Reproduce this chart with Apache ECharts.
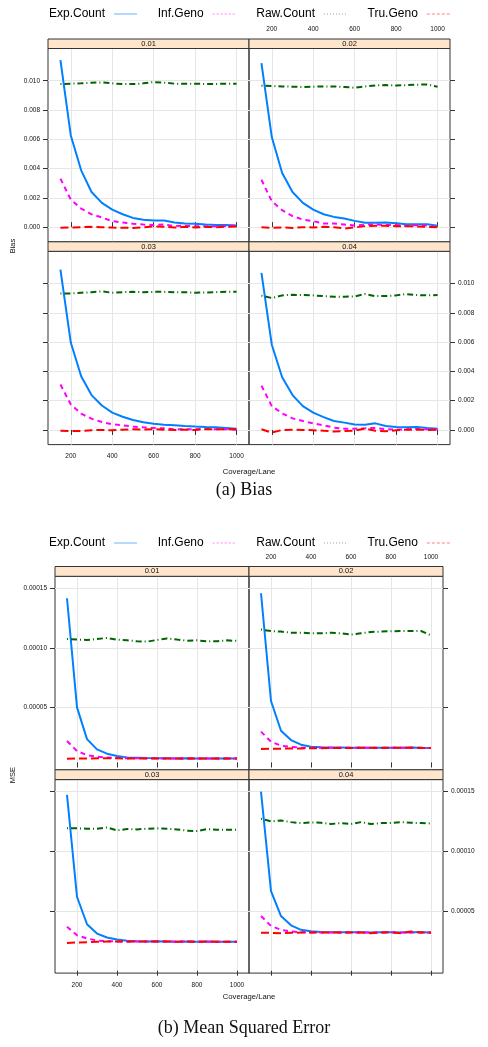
<!DOCTYPE html>
<html>
<head>
<meta charset="utf-8">
<script src="https://cdn.jsdelivr.net/npm/echarts@6/dist/echarts.min.js"></script>
<style>
html,body{margin:0;padding:0;background:#fff;}
#c{width:488px;height:1047px;}
</style>
</head>
<body>
<div id="c"></div>
<script>
// ---------------- DATA ----------------
const coverage = [150,200,250,300,350,400,450,500,550,600,650,700,750,800,850,900,950,1000];
const panelLabels = ['0.01','0.02','0.03','0.04'];
const seriesNames = ['Exp.Count','Inf.Geno','Raw.Count','Tru.Geno'];
const xTicks = [200,400,600,800,1000];
const biasTicks = [0,0.002,0.004,0.006,0.008,0.010];
const mseTicks = [0.00005,0.00010,0.00015];
const captionA = '(a) Bias';
const captionB = '(b) Mean Squared Error';
const xTitle = 'Coverage/Lane';
const yTitleA = 'Bias';
const yTitleB = 'MSE';

// Bias
const bias01Exp = [0.01141,0.00626,0.00388,0.0024,0.00166,0.0012,0.00088,0.00063,0.0005,0.00045,0.00045,0.00032,0.00025,0.00023,0.00018,0.00014,0.00014,0.00011];
const bias01Inf = [0.00331,0.00188,0.00127,0.00088,0.00066,0.00041,0.00032,0.00023,0.00018,0.00014,0.00018,0.00007,0.0001,0.00006,0.00006,0.00007,0.00008,0.0001];
const bias01Raw = [0.00977,0.0098,0.00982,0.00986,0.00989,0.00982,0.00977,0.00977,0.00982,0.00991,0.00986,0.0098,0.0098,0.0098,0.00977,0.00978,0.0098,0.0098];
const bias01Tru = [-0.00004,-0.00002,0,0.00002,-0.00001,-0.00003,-0.00004,-0.00005,-0.00002,0.00005,0.00003,-0.00003,0.00002,-0.00002,0.00001,0,0.00003,0.00004];

const bias02Exp = [0.0112,0.00615,0.0037,0.0024,0.00166,0.0012,0.00088,0.0007,0.00059,0.00043,0.0003,0.0003,0.00032,0.00027,0.0002,0.0002,0.0002,0.0001];
const bias02Inf = [0.00324,0.00177,0.00116,0.00075,0.00052,0.00041,0.00025,0.00025,0.00018,0.00011,0.00018,0.00018,0.00014,0.00014,0.00009,0.00014,0.00011,0.00002];
const bias02Raw = [0.00966,0.00964,0.00961,0.00959,0.00957,0.00959,0.00961,0.00961,0.00957,0.00952,0.00961,0.00968,0.0097,0.00968,0.0097,0.00973,0.00975,0.00959];
const bias02Tru = [0,-0.00005,-0.00002,-0.00005,0,-0.00002,0.00002,0,-0.00009,-0.00002,0.00007,0.00009,0.00009,0.00007,0.00007,0.00005,0.00002,0];

const bias03Exp = [0.01095,0.00597,0.00367,0.00238,0.00167,0.00118,0.0009,0.00068,0.00052,0.00043,0.00036,0.00032,0.00027,0.00023,0.0002,0.00018,0.00014,0.00009];
const bias03Inf = [0.0031,0.00174,0.00111,0.00077,0.00054,0.00038,0.00032,0.00023,0.00018,0.00014,0.00011,0.00005,0.00005,0.00005,0.00007,0.00005,0.00005,0.00002];
const bias03Raw = [0.00932,0.00932,0.00937,0.00941,0.00946,0.00937,0.00941,0.00943,0.00941,0.00943,0.00943,0.00941,0.00941,0.00937,0.00939,0.00941,0.00943,0.00943];
const bias03Tru = [-0.00005,-0.00007,-0.00007,-0.00002,0,-0.00002,0.00002,0.00005,0.00002,0.00005,0.00002,0,0.00002,0,0.00005,0.00005,0.00005,0.00005];

const bias04Exp = [0.01073,0.00582,0.0036,0.00238,0.00163,0.00118,0.00088,0.00061,0.0005,0.00038,0.00036,0.00045,0.00027,0.0002,0.00018,0.0002,0.00014,0.00009];
const bias04Inf = [0.00303,0.00163,0.00113,0.00079,0.00061,0.00045,0.00032,0.00016,0.00009,0.00009,0.00011,0.00014,0.00005,0.00002,0.00005,0.00007,0.00005,0.00005];
const bias04Raw = [0.00917,0.00901,0.00919,0.00923,0.00921,0.00919,0.00914,0.0091,0.0091,0.00912,0.00928,0.00914,0.00914,0.00919,0.00928,0.00921,0.00919,0.00921];
const bias04Tru = [0.00005,-0.00018,0,0.00002,0,-0.00002,-0.00005,-0.00011,-0.00007,-0.00005,0.00009,-0.00005,-0.00009,-0.00002,0.00002,0.00002,0,0.00002];

// MSE
const mse01Exp = [0.0001416,0.0000503,0.0000237,0.0000151,0.0000115,0.0000095,0.0000084,0.0000081,0.0000078,0.0000077,0.0000076,0.0000075,0.0000076,0.0000075,0.0000074,0.0000075,0.0000074,0.0000074];
const mse01Inf = [0.0000221,0.0000137,0.0000103,0.0000089,0.0000084,0.0000079,0.0000077,0.0000077,0.0000076,0.0000076,0.0000075,0.0000075,0.0000075,0.0000075,0.0000074,0.0000075,0.0000074,0.0000074];
const mse01Raw = [0.0001075,0.000107,0.0001067,0.0001075,0.0001084,0.000107,0.0001064,0.0001056,0.0001053,0.0001067,0.000108,0.000107,0.0001061,0.0001064,0.0001056,0.0001056,0.0001064,0.0001059];
const mse01Tru = [0.0000073,0.0000074,0.0000075,0.0000076,0.0000077,0.0000076,0.0000075,0.0000075,0.0000075,0.0000075,0.0000075,0.0000074,0.0000075,0.0000075,0.0000074,0.0000075,0.0000074,0.0000074];

const mse02Exp = [0.0001458,0.0000556,0.0000307,0.0000229,0.000019,0.0000173,0.0000168,0.0000166,0.0000166,0.0000165,0.0000165,0.0000165,0.0000164,0.0000165,0.0000165,0.0000166,0.0000164,0.0000163];
const mse02Inf = [0.00003,0.0000215,0.0000182,0.0000171,0.0000166,0.0000165,0.0000165,0.0000165,0.0000164,0.0000165,0.0000165,0.0000164,0.0000165,0.0000164,0.0000165,0.0000165,0.0000164,0.0000163];
const mse02Raw = [0.0001154,0.0001142,0.0001137,0.0001128,0.0001128,0.0001123,0.0001123,0.0001128,0.0001123,0.0001112,0.0001123,0.0001134,0.0001137,0.000114,0.0001142,0.0001142,0.0001142,0.0001106];
const mse02Tru = [0.0000154,0.0000156,0.0000157,0.0000158,0.0000159,0.000016,0.000016,0.0000162,0.0000163,0.0000163,0.0000164,0.0000164,0.0000162,0.0000164,0.0000165,0.0000164,0.0000163,0.0000163];

const mse03Exp = [0.0001472,0.0000619,0.0000389,0.0000311,0.0000278,0.0000261,0.000025,0.0000247,0.0000245,0.0000246,0.0000245,0.0000243,0.0000244,0.0000243,0.0000244,0.0000243,0.0000242,0.0000242];
const mse03Inf = [0.0000369,0.0000297,0.000027,0.0000253,0.0000247,0.0000245,0.0000244,0.0000244,0.0000245,0.0000244,0.0000244,0.0000243,0.0000244,0.0000243,0.0000243,0.0000243,0.0000242,0.0000242];
const mse03Raw = [0.0001192,0.0001192,0.0001189,0.0001189,0.00012,0.0001175,0.0001186,0.0001183,0.0001189,0.0001192,0.0001189,0.0001183,0.0001172,0.0001169,0.0001186,0.000118,0.000118,0.000118];
const mse03Tru = [0.0000233,0.0000236,0.0000239,0.0000242,0.0000244,0.0000245,0.0000243,0.0000244,0.0000245,0.0000244,0.0000245,0.0000243,0.0000244,0.0000242,0.0000245,0.0000243,0.0000243,0.0000242];

const mse04Exp = [0.00015,0.0000667,0.0000458,0.000038,0.0000342,0.000033,0.0000325,0.0000322,0.0000322,0.0000321,0.0000322,0.000032,0.0000321,0.0000321,0.000032,0.0000322,0.0000321,0.000032];
const mse04Inf = [0.0000458,0.0000375,0.0000342,0.0000328,0.0000322,0.000032,0.000032,0.0000321,0.000032,0.0000321,0.000032,0.000032,0.000032,0.0000321,0.000032,0.000032,0.000032,0.000032];
const mse04Raw = [0.0001272,0.000125,0.0001258,0.0001244,0.0001236,0.0001242,0.0001239,0.0001228,0.0001236,0.0001228,0.0001244,0.0001228,0.0001236,0.0001236,0.0001244,0.0001239,0.0001236,0.0001233];
const mse04Tru = [0.0000317,0.0000317,0.0000314,0.0000317,0.000032,0.000032,0.0000319,0.000032,0.0000319,0.000032,0.000032,0.0000314,0.000032,0.0000322,0.0000314,0.0000328,0.000032,0.0000317];

// ---------------- STYLE / LAYOUT ----------------
const lineColors = ['#0080ff','#ff00ff','#006400','#ff0000'];
const lineTypes = ['solid',[5,4],[1,3,6,3],[8,4]];
const legendTypes = ['solid',[2,2],[1,2],[3,2]];
const SANS = 'Liberation Sans';

const charts = [
  { // (a) Bias
    data: [[bias01Exp,bias01Inf,bias01Raw,bias01Tru],[bias02Exp,bias02Inf,bias02Raw,bias02Tru],
           [bias03Exp,bias03Inf,bias03Raw,bias03Tru],[bias04Exp,bias04Inf,bias04Raw,bias04Tru]],
    cols:[48,249], colW:201, stripTops:[39,241.8], stripH:9.5, panelH:193.3,
    yMin:-0.001, yMax:0.0122, yTicks:biasTicks, fmt:v=>v.toFixed(3),
    legendTop:8, xTitleY:472, yTitle:yTitleA, yTitleY:246, caption:captionA, captionY:490, xMarginB:8
  },
  { // (b) MSE
    data: [[mse01Exp,mse01Inf,mse01Raw,mse01Tru],[mse02Exp,mse02Inf,mse02Raw,mse02Tru],
           [mse03Exp,mse03Inf,mse03Raw,mse03Tru],[mse04Exp,mse04Inf,mse04Raw,mse04Tru]],
    cols:[55,249], colW:194, stripTops:[566.5,769.8], stripH:9.8, panelH:193.5,
    yMin:-0.000002, yMax:0.00016, yTicks:mseTicks, fmt:v=>v.toFixed(5),
    legendTop:537, xTitleY:997, yTitle:yTitleB, yTitleY:775, caption:captionB, captionY:1028, xMarginB:9
  }
];

const grids=[], xAxes=[], yAxes=[], series=[], graphics=[], legends=[];
const tickLabelStyle = {fontFamily:SANS, fontSize:6.5, color:'#111'};

charts.forEach((ch, ci) => {
  for (let p=0;p<4;p++){
    const col=p%2, row=Math.floor(p/2);
    const left=ch.cols[col], top=ch.stripTops[row]+ch.stripH;
    const gi=grids.length;
    grids.push({left:left, top:top, width:ch.colW, height:ch.panelH, show:true,
      borderColor:'#333', borderWidth:1, backgroundColor:'transparent'});
    const showX = (row===0 && col===1) || (row===1 && col===0);
    const showY = (row===0 && col===0) || (row===1 && col===1);
    xAxes.push({type:'value', gridIndex:gi, min:90, max:1060,
      position: row===0 ? 'top':'bottom', offset: row===0 ? ch.stripH : 0,
      axisLine:{show:false},
      axisTick:{show:true, inside:false, length:5, customValues:xTicks, lineStyle:{color:'#333',width:1}},
      axisLabel:{show:showX, customValues:xTicks, margin: row===0 ? 6 : ch.xMarginB, formatter:v=>String(v), ...tickLabelStyle},
      splitLine:{show:true, lineStyle:{color:'#e6e6e6',width:1}}
    });
    yAxes.push({type:'value', gridIndex:gi, min:ch.yMin, max:ch.yMax,
      position: col===0 ? 'left':'right',
      axisLine:{show:false},
      axisTick:{show:true, inside:false, length:5, customValues:ch.yTicks, lineStyle:{color:'#333',width:1}},
      axisLabel:{show:showY, customValues:ch.yTicks, margin:8, formatter:ch.fmt, ...tickLabelStyle},
      splitLine:{show:true, lineStyle:{color:'#e6e6e6',width:1}}
    });
    [0,1,2,3].forEach(s => {
      series.push({type:'line', name:seriesNames[s], xAxisIndex:gi, yAxisIndex:gi,
        data: coverage.map((x,i)=>[x, ch.data[p][s][i]]),
        symbol:'none', silent:true, clip:true,
        lineStyle:{color:lineColors[s], width:2, type:lineTypes[s], cap:'butt'},
        itemStyle:{color:lineColors[s]}
      });
    });
    graphics.push({type:'rect', shape:{x:left, y:ch.stripTops[row], width:ch.colW, height:ch.stripH},
      style:{fill:'#ffe5cc', stroke:'#333', lineWidth:1}, z:10, silent:true});
    graphics.push({type:'text', x:left+ch.colW/2, y:ch.stripTops[row]+ch.stripH/2, z:11, silent:true,
      style:{text:panelLabels[p], fill:'#111', font:'7.5px "Liberation Sans"', textAlign:'center', textVerticalAlign:'middle'}});
  }
  const midX = ch.cols[1];
  graphics.push({type:'text', x:midX, y:ch.xTitleY, silent:true,
    style:{text:xTitle, fill:'#111', font:'7.7px "Liberation Sans"', textAlign:'center', textVerticalAlign:'middle'}});
  graphics.push({type:'text', x:13, y:ch.yTitleY, rotation:Math.PI/2, silent:true,
    style:{text:ch.yTitle, fill:'#111', font:'7.5px "Liberation Sans"', textAlign:'center', textVerticalAlign:'middle'}});
  graphics.push({type:'text', x:244, y:ch.captionY, silent:true,
    style:{text:ch.caption, fill:'#111', font:'18px "Liberation Serif"', textAlign:'center', textVerticalAlign:'middle'}});
  legends.push({top:ch.legendTop, left:49, padding:0, align:'right', orient:'horizontal',
    itemWidth:23, itemHeight:12, itemGap:20, selectedMode:false,
    textStyle:{fontFamily:SANS, fontSize:12, color:'#000', padding:[0,4,0,0]},
    data: seriesNames.map((n,s)=>({name:n,
      itemStyle:{color:'rgba(0,0,0,0)', borderWidth:0, opacity:0},
      lineStyle:{color:lineColors[s], width:1.2, type:legendTypes[s], opacity:0.5}}))
  });
});

const chart = echarts.init(document.getElementById('c'), null, {renderer:'canvas'});
chart.setOption({
  animation:false,
  backgroundColor:'#fff',
  legend: legends,
  grid: grids,
  xAxis: xAxes,
  yAxis: yAxes,
  series: series,
  graphic: graphics
});
</script>
</body>
</html>
